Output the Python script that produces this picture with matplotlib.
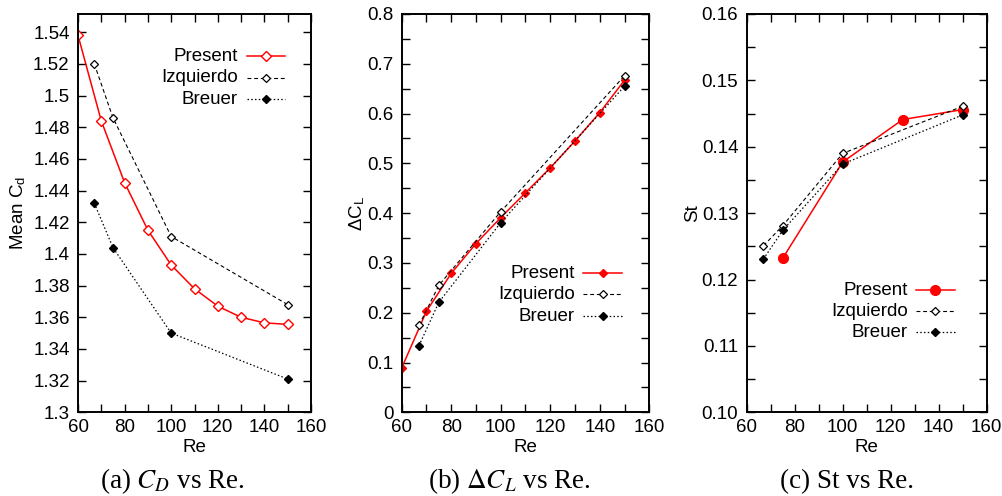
import matplotlib
matplotlib.use("Agg")
import matplotlib.pyplot as plt
from matplotlib.ticker import MultipleLocator, FormatStrFormatter

plt.rcParams['font.family'] = ['Liberation Sans', 'DejaVu Sans']
plt.rcParams['mathtext.fontset'] = 'stix'

# ---- data ----
re_present = [60, 70, 80, 90, 100, 110, 120, 130, 140, 150]
re_ref = [67, 75, 100, 150]
re_present_st = [75, 100, 125, 150]

cd_present = [1.538, 1.484, 1.445, 1.415, 1.393, 1.378, 1.367, 1.360, 1.3565, 1.3555]
cd_izquierdo = [1.520, 1.486, 1.411, 1.368]
cd_breuer = [1.432, 1.404, 1.350, 1.321]

dcl_present = [0.089, 0.203, 0.279, 0.339, 0.391, 0.441, 0.491, 0.545, 0.602, 0.667]
dcl_izquierdo = [0.175, 0.255, 0.403, 0.676]
dcl_breuer = [0.134, 0.221, 0.381, 0.655]

st_present = [0.1232, 0.1377, 0.1441, 0.1456]
st_izquierdo = [0.1251, 0.1281, 0.1390, 0.1461]
st_breuer = [0.1231, 0.1274, 0.1374, 0.1448]

series_names = ["Present", "Izquierdo", "Breuer"]
captions = ["(a) $C_D$ vs Re.", r"(b) $\Delta C_L$ vs Re.", "(c) St vs Re."]

FS = 13.5
W, H = 1003, 496
fig = plt.figure(figsize=(W / 100, H / 100), dpi=100)


def add_axes(x0, x1, y0=14, y1=412.3):
    return fig.add_axes([x0 / W, 1 - y1 / H, (x1 - x0) / W, (y1 - y0) / H])


ax_a = add_axes(78, 311)
ax_b = add_axes(401.7, 649.3)
ax_c = add_axes(746.7, 986.7)

dash_style = dict(color='black', lw=0.8, linestyle=(0, (3.5, 2.5)))
dot_style = dict(color='black', lw=0.9, linestyle=(0, (1.2, 1.8)))

present_styles = [
    dict(color='red', lw=1.1, marker='D', ms=5.2, mfc='white', mec='red', mew=1.0),
    dict(color='red', lw=1.1, marker='D', ms=4.4, mfc='red', mec='red'),
    dict(color='red', lw=1.1, marker='o', ms=7.0, mfc='red', mec='red'),
]
izq_style = dict(marker='D', ms=3.8, mfc='white', mec='black', mew=0.9, **dash_style)
breuer_style = dict(marker='D', ms=4.0, mfc='black', mec='black', **dot_style)

panels = [
    (ax_a, re_present, cd_present, cd_izquierdo, cd_breuer),
    (ax_b, re_present, dcl_present, dcl_izquierdo, dcl_breuer),
    (ax_c, re_present_st, st_present, st_izquierdo, st_breuer),
]

for i, (ax, re_p, y_p, y_i, y_b) in enumerate(panels):
    ax.plot(re_p, y_p, **present_styles[i])
    ax.plot(re_ref, y_i, **izq_style)
    ax.plot(re_ref, y_b, **breuer_style)

# ---- axes limits, ticks ----
ax_a.set_ylim(1.3, 1.5515)
ax_a.yaxis.set_major_locator(MultipleLocator(0.02))
ax_a.yaxis.set_major_formatter(FormatStrFormatter('%g'))

ax_b.set_ylim(0, 0.8)
ax_b.yaxis.set_major_locator(MultipleLocator(0.1))
ax_b.yaxis.set_minor_locator(MultipleLocator(0.05))
ax_b.yaxis.set_major_formatter(FormatStrFormatter('%g'))

ax_c.set_ylim(0.10, 0.16)
ax_c.yaxis.set_major_locator(MultipleLocator(0.01))
ax_c.yaxis.set_minor_locator(MultipleLocator(0.005))
ax_c.yaxis.set_major_formatter(FormatStrFormatter('%.2f'))

for ax in (ax_a, ax_b, ax_c):
    ax.set_xlim(60, 160)
    ax.xaxis.set_major_locator(MultipleLocator(20))
    ax.xaxis.set_minor_locator(MultipleLocator(10))
    ax.tick_params(which='both', direction='in', top=True, right=True,
                   length=6, width=1.0, labelsize=FS, pad=5)
    ax.tick_params(axis='y', pad=6)
    for s in ax.spines.values():
        s.set_linewidth(1.4)
    ax.set_xlabel("Re", fontsize=FS, labelpad=2)

ax_a.set_ylabel(r"Mean C$_\mathregular{d}$", fontsize=FS)
ax_b.set_ylabel(r"$\mathregular{\Delta}$C$_\mathregular{L}$", fontsize=FS)
ax_c.set_ylabel("St", fontsize=FS)
for ax, xl in ((ax_a, -0.258), (ax_b, -0.178), (ax_c, -0.225)):
    ax.yaxis.label.set_va('center')
    ax.yaxis.set_label_coords(xl, 0.5)

# ---- key (text right-aligned, sample line to its right) ----
legend_geom = [
    # text_right, line_start, line_end, row y positions (axes fraction)
    (ax_a, 0.687, 0.724, 0.888, [0.894, 0.840, 0.786]),
    (ax_b, 0.700, 0.733, 0.891, [0.349, 0.296, 0.241]),
    (ax_c, 0.671, 0.704, 0.867, [0.307, 0.254, 0.201]),
]
for i, (ax, tx, lx0, lx1, rows) in enumerate(legend_geom):
    styles = [present_styles[i], izq_style, breuer_style]
    for name, st, yy in zip(series_names, styles, rows):
        ax.text(tx, yy, name, transform=ax.transAxes, ha='right', va='center',
                fontsize=FS)
        line_kw = {k: v for k, v in st.items() if k in ('color', 'lw', 'linestyle')}
        mark_kw = {k: v for k, v in st.items() if k in ('marker', 'ms', 'mfc', 'mec', 'mew')}
        ax.plot([lx0, lx1], [yy, yy], transform=ax.transAxes, clip_on=False, **line_kw)
        ax.plot([(lx0 + lx1) / 2], [yy], transform=ax.transAxes, clip_on=False,
                linestyle='none', **mark_kw)

# ---- captions ----
for cx, cap in zip((172, 509, 847), captions):
    fig.text(cx / W, 1 - 488 / H, cap, ha='center', va='baseline',
             fontsize=19.5, family=['Liberation Serif', 'DejaVu Serif'])

fig.savefig("out.png", dpi=100)
